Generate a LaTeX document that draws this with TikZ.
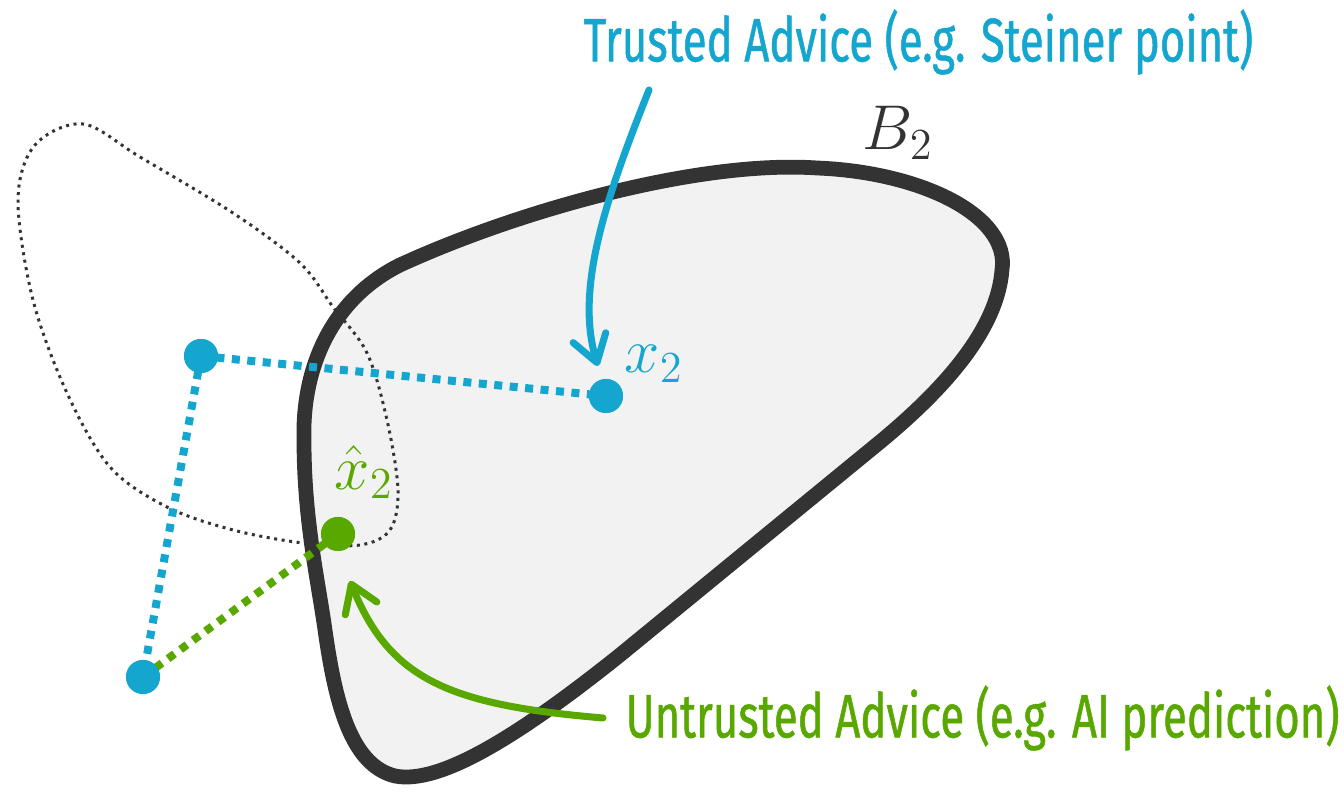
\RequirePackage{fix-cm}
\documentclass[tikz,border=0pt]{standalone}
\usepackage{fontspec}
\usepackage{xcolor}
\usepackage{tikz}
\usetikzlibrary{arrows.meta, calc}
\newfontfamily\advfont[FakeStretch=0.71, FakeBold=0.8]{Fira Sans}
\definecolor{tblue}{HTML}{14A6CF}
\definecolor{ugreen}{HTML}{58A800}
\definecolor{rimgray}{HTML}{333333}
\definecolor{ballfill}{HTML}{F2F2F2}
\tikzset{
  tdot/.style   = {circle, fill=tblue, minimum size=0.34cm, inner sep=0pt},
  udot/.style   = {circle, fill=ugreen, minimum size=0.34cm, inner sep=0pt},
  tline/.style  = {draw=tblue, line width=0.08cm, dash pattern=on 0.08cm off 0.075cm},
  uline/.style  = {draw=ugreen, line width=0.08cm, dash pattern=on 0.08cm off 0.075cm},
  tarrow/.style = {draw=tblue, line width=2pt, line cap=round,
                   -{Straight Barb[round, length=0.26cm, width=0.34cm]}},
  uarrow/.style = {draw=ugreen, line width=2pt, line cap=round,
                   -{Straight Barb[round, length=0.26cm, width=0.34cm]}},
  ballB/.style  = {draw=rimgray, fill=ballfill, line width=4.2pt, line join=round},
  ballprev/.style = {draw=rimgray, line width=0.85pt, dash pattern=on 0.85pt off 1.3pt},
  mlabel/.style = {inner sep=0pt, font=\fontsize{18}{20}\selectfont},
  advice/.style = {inner sep=0pt, font=\advfont\fontsize{17.5}{20}\selectfont},
}

\begin{document}
\begin{tikzpicture}[x=0.01cm, y=-0.01cm]

    \useasboundingbox (0,0) rectangle (1344,792);

    %% Ball B_2
    \draw[ballB] (304,440)
        .. controls (302,370) and (330,300) .. (400,265)
        .. controls (520,210) and (700,160) .. (817,168)
        .. controls (920,172) and (1010,215) .. (1002,270)
        .. controls (998,320) and (960,376) .. (880,442)
        -- (620,655)
        .. controls (520,735) and (440,785) .. (395,776)
        .. controls (350,765) and (335,700) .. (325,630)
        .. controls (318,580) and (304,520) .. (304,440) -- cycle;

    %% previous ball (dotted)
    \draw[ballprev] plot[smooth cycle, tension=0.55] coordinates {
        (83,124) (140,157) (233,213) (300,263) (333,307) (367,353)
        (387,420) (398,490) (390,530) (360,545) (303,543) (233,530)
        (167,507) (110,467) (67,393) (33,300) (18,200) (35,145)};

    %% points
    \node[tdot] (p1) at (201,356) {};
    \node[tdot] (x2) at (606,396) {};
    \node[tdot] (p0) at (143,677) {};
    \node[udot] (xh) at (338,534) {};

    \draw[tline] (p1.center) -- (x2.center);
    \draw[tline] (p1.center) -- (p0.center);
    \draw[uline] (p0.center) -- (xh.center);
    \node[tdot] at (p1) {};
    \node[tdot] at (x2) {};
    \node[tdot] at (p0) {};
    \node[udot] at (xh) {};

    %% labels
    \node[mlabel, text=tblue, anchor=west]   (x2lab) at (624,364) {$x_2$};
    \node[mlabel, text=ugreen, anchor=west]  (xhlab) at (334,472) {$\hat{x}_2$};
    \node[mlabel, text=rimgray, anchor=west] (b2lab) at (862,133) {$B_2$};

    %% advice texts
    \node[advice, text=tblue, anchor=west]  (trusted)   at (583,42)
        {Trusted Advice (e.g. Steiner point)};
    \node[advice, text=ugreen, anchor=west] (untrusted) at (625,718)
        {Untrusted Advice (e.g. AI prediction)};

    \coordinate (ta) at (649,90);
    \coordinate (tt) at (598,366);
    \coordinate (ua) at (603,718);
    \coordinate (ut) at (350,581);
    \draw[tarrow] (ta) .. controls (605,200) and (575,290) .. (tt);
    \draw[uarrow] (ua) .. controls (450,705) and (390,680) .. (ut);

\end{tikzpicture}
\end{document}
